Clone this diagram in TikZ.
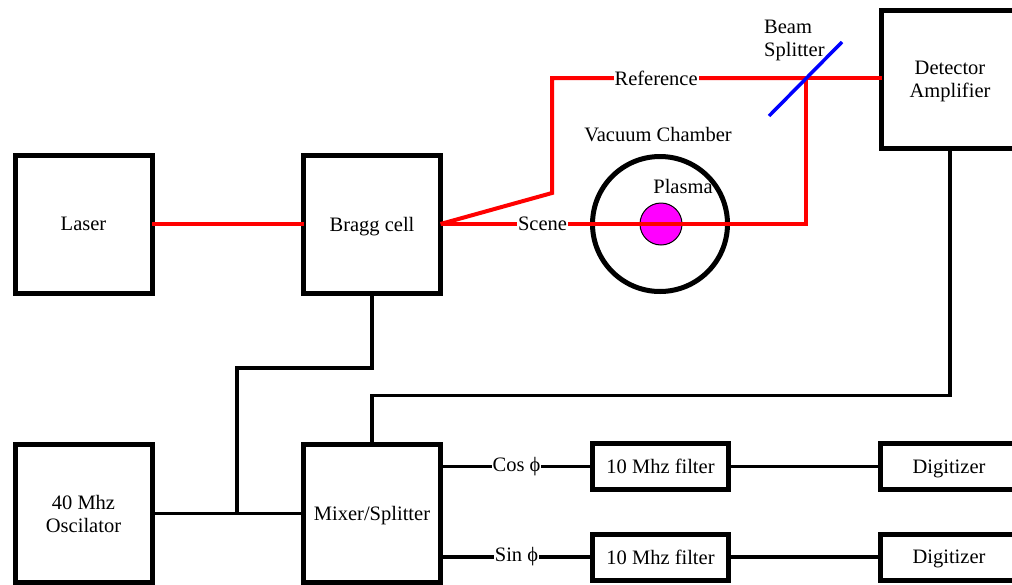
\documentclass[tikz,border=0pt]{standalone}
\usepackage{fontspec}
\setmainfont{Liberation Serif}
\usepackage{tikz}
\definecolor{plasmapink}{RGB}{255,0,255}
\definecolor{beamred}{RGB}{255,0,0}
\definecolor{splitblue}{RGB}{0,0,255}

\begin{document}
\begin{tikzpicture}[
  x=1pt, y=-1pt,
  font=\fontsize{20.5}{23}\selectfont,
  box/.style={draw, line width=5pt, align=center, inner sep=0pt, outer sep=0pt, text depth=0pt},
  bigbox/.style={box, minimum width=137pt, minimum height=138pt},
  slimbox/.style={box, minimum width=136pt, minimum height=46pt},
  wire/.style={line width=3.5pt},
  beam/.style={beamred, line width=4pt},
  lbl/.style={fill=white, text=black, inner sep=1pt}
]
  \clip (0,0) rectangle (1012,584);

  \node[bigbox] (laser) at (83.5,224) {Laser};
  \node[bigbox] (bragg) at (372,224) {Bragg cell};
  \node[bigbox] (det) at (950,79) {Detector\\Amplifier};
  \node[bigbox] (osc) at (83.5,513.5) {40 Mhz\\Oscilator};
  \node[bigbox] (mixer) at (372,513.5) {Mixer/Splitter};
  \node[slimbox] (filt1) at (660.5,466.5) {10 Mhz filter};
  \node[slimbox] (filt2) at (660.5,557) {10 Mhz filter};
  \node[slimbox, minimum width=137pt] (dig1) at (949,466.5) {Digitizer};
  \node[slimbox, minimum width=137pt] (dig2) at (949,557) {Digitizer};

  \node[circle, draw, line width=5pt, minimum size=135pt, inner sep=0pt] (vac) at (660,224) {};
  \node[circle, draw, fill=plasmapink, line width=1pt, minimum size=42pt, inner sep=0pt] (plasma) at (661,224) {};
  \node (vaclbl) at (658,135) {Vacuum Chamber};
  \node (plasmalbl) at (683,186) {Plasma};
  \node[align=left, anchor=west, inner sep=0pt] (bslbl) at (764,40) {Beam\\Splitter};

  \coordinate (bs) at (806,78);
  \coordinate (kink) at (552,193);
  \coordinate (tap) at (237,513.5);

  \draw[beam] (laser) -- (bragg);
  \draw[beam] (bragg.east) -- (kink) -- (kink |- bs) -- node[lbl, pos=0.41] {Reference} (bs);
  \draw[beam] (bragg.east) -- node[lbl, pos=0.279] {Scene} (bragg.east -| bs) -- (bs) -- (bs -| det.west);
  \draw[splitblue, line width=3.5pt] (769,116) -- (842,42);

  \draw[wire] (osc) -- (mixer);
  \draw[wire] (bragg.south) -- ++(0,75) -| (tap);
  \draw[wire] (det.south) -- ++(0,247.5) -| (mixer.north);
  \draw[wire] (mixer.east |- filt1) -- node[lbl, pos=0.5] {Cos ϕ} (filt1.west);
  \draw[wire] (mixer.east |- filt2) -- node[lbl, pos=0.5] {Sin ϕ} (filt2.west);
  \draw[wire] (filt1) -- (dig1);
  \draw[wire] (filt2) -- (dig2);
\end{tikzpicture}
\end{document}
